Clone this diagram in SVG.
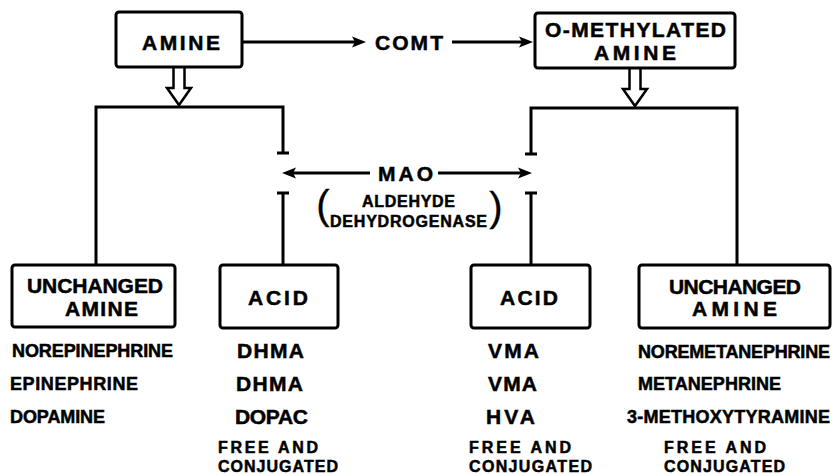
<svg xmlns="http://www.w3.org/2000/svg" width="834" height="474" viewBox="0 0 834 474">
<style>
.box{fill:#fff;stroke:#000;stroke-width:3}
.ln{fill:none;stroke:#000;stroke-width:3}
.hol{fill:#fff;stroke:#000;stroke-width:2.5;stroke-linejoin:miter}
text{font-family:"Liberation Sans",Arial,sans-serif;font-weight:bold;fill:#000;stroke:#000;stroke-width:0.5}
.t{font-size:21px;text-anchor:middle}
.l{font-size:18px}
.m{font-size:21px}
.s{font-size:16px}
.p{font-weight:normal;font-size:40px;text-anchor:middle;stroke-width:0.3}
</style>
<defs>
<marker id="ah" markerUnits="userSpaceOnUse" markerWidth="16" markerHeight="12" viewBox="0 -6 16 12" refX="4" refY="0" orient="auto">
<path d="M0,-5.5 L14,0 L0,5.5 L3,0 Z" fill="#000"/>
</marker>
</defs>
<rect width="834" height="474" fill="#fff"/>
<g id="connectors">
<path class="ln" d="M242,42 H356" marker-end="url(#ah)"/>
<path class="ln" d="M452,42 H523" marker-end="url(#ah)"/>
<path class="ln" d="M370,173 H292" marker-end="url(#ah)"/>
<path class="ln" d="M438,173 H522" marker-end="url(#ah)"/>
<path class="hol" d="M173.5,68 V88 H167 L179,105 L191,88 H184.5 V68"/>
<path class="hol" d="M629.5,69 V89 H623 L635,106 L647,89 H640.5 V69"/>
<path class="ln" d="M96,265 V107 H283 V153 M277,153 H289"/>
<path class="ln" d="M277,193 H289 M283,193 V265"/>
<path class="ln" d="M737,265 V108 H531 V154 M525,154 H537"/>
<path class="ln" d="M525,193 H537 M531,193 V265"/>
</g>
<g id="amine">
<rect class="box" x="116" y="12" width="126" height="55" rx="3"/>
<text class="t" x="181" y="50" textLength="78">AMINE</text>
</g>
<g id="comt">
<text class="t" x="409" y="50" textLength="68">COMT</text>
</g>
<g id="o-methylated-amine">
<rect class="box" x="535" y="13" width="200" height="55" rx="3"/>
<text class="t" x="635.5" y="37" textLength="181">O-METHYLATED</text>
<text class="t" x="635" y="60" textLength="82">AMINE</text>
</g>
<g id="mao">
<text class="t" x="405.5" y="181" font-size="22" textLength="55">MAO</text>
<text class="p" x="323" y="219">(</text>
<text class="t" x="408.5" y="207" style="font-size:16px" textLength="93">ALDEHYDE</text>
<text class="t" x="408.5" y="227" style="font-size:16px" textLength="157">DEHYDROGENASE</text>
<text class="p" x="496" y="221">)</text>
</g>
<g id="unchanged-amine-left">
<rect class="box" x="12" y="265" width="163" height="62" rx="3"/>
<text class="t" x="95" y="293" textLength="136">UNCHANGED</text>
<text class="t" x="101.5" y="316" textLength="73">AMINE</text>
<text class="l" x="12" y="357" textLength="161">NOREPINEPHRINE</text>
<text class="l" x="10" y="390" textLength="128">EPINEPHRINE</text>
<text class="l" x="10" y="423" textLength="95">DOPAMINE</text>
</g>
<g id="acid-left">
<rect class="box" x="220" y="265" width="118" height="63" rx="3"/>
<text class="t" x="278" y="305" textLength="60">ACID</text>
<text class="m" x="237" y="358" textLength="67">DHMA</text>
<text class="m" x="236" y="391" textLength="67">DHMA</text>
<text class="m" x="235" y="424" textLength="73">DOPAC</text>
<text class="s" x="218" y="453" textLength="100">FREE AND</text>
<text class="s" x="218" y="472" textLength="120">CONJUGATED</text>
</g>
<g id="acid-right">
<rect class="box" x="471" y="265" width="119" height="63" rx="3"/>
<text class="t" x="529" y="305" textLength="58">ACID</text>
<text class="m" x="488" y="358" textLength="51">VMA</text>
<text class="m" x="488" y="391" textLength="49">VMA</text>
<text class="m" x="486" y="424" textLength="49">HVA</text>
<text class="s" x="469" y="453" textLength="102">FREE AND</text>
<text class="s" x="469" y="472" textLength="123">CONJUGATED</text>
</g>
<g id="unchanged-amine-right">
<rect class="box" x="639" y="265" width="191" height="63" rx="3"/>
<text class="t" x="735" y="294" textLength="132">UNCHANGED</text>
<text class="t" x="734.5" y="316" textLength="85">AMINE</text>
<text class="l" x="638" y="358" textLength="192">NOREMETANEPHRINE</text>
<text class="l" x="638" y="390" textLength="143">METANEPHRINE</text>
<text class="l" x="627" y="423" textLength="203">3-METHOXYTYRAMINE</text>
<text class="s" x="664" y="453" textLength="102">FREE AND</text>
<text class="s" x="664" y="472" textLength="121">CONJUGATED</text>
</g>
</svg>
